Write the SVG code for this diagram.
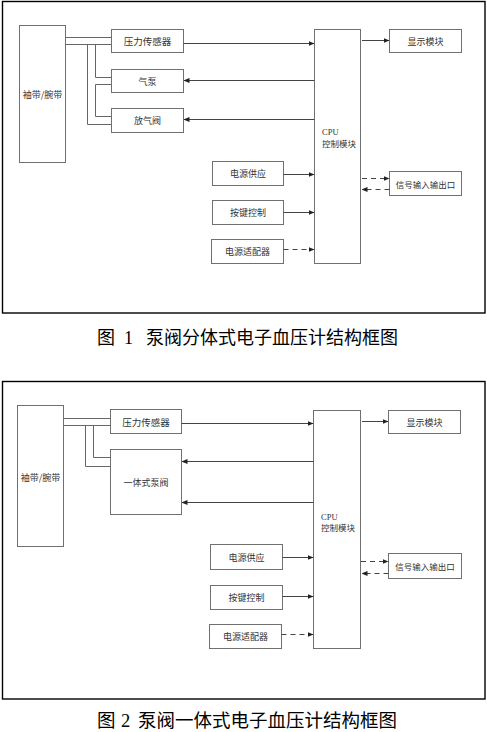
<svg xmlns="http://www.w3.org/2000/svg" width="487" height="732" viewBox="0 0 487 732">
<defs>
<marker id="ah" markerWidth="6" markerHeight="6" refX="5.5" refY="3" orient="auto" markerUnits="userSpaceOnUse">
<path d="M0,0.5 L6,3 L0,5.5 Z" fill="#222"/>
</marker>
</defs>
<style>
.frame{fill:#fff;stroke:#000;stroke-width:1.4}
.box{fill:#fff;stroke:#707070;stroke-width:1}
.lbl{font-family:"Noto Sans CJK SC","Liberation Sans",sans-serif;font-size:9px;fill:#333;text-anchor:middle;dominant-baseline:central}
.cpu{font-family:"Liberation Serif","Noto Sans CJK SC",serif;font-size:8.5px;fill:#333}
.ln{fill:none;stroke:#666;stroke-width:1}
.ar{fill:none;stroke:#444;stroke-width:1;marker-end:url(#ah)}
.da{fill:none;stroke:#444;stroke-width:1;stroke-dasharray:5 4;marker-end:url(#ah)}
.cap{font-family:"Liberation Serif","Noto Sans CJK SC",serif;font-size:18px;fill:#000}
</style>
<rect width="487" height="732" fill="#fff"/>

<!-- Figure 1 -->
<rect class="frame" x="2.5" y="1.5" width="482.5" height="311.5"/>
<g id="f1-cuff"><rect class="box" x="19.5" y="25.5" width="46" height="137"/><text class="lbl" x="42.5" y="94">袖带/腕带</text></g>
<g id="f1-sensor"><rect class="box" x="111.5" y="29.5" width="72" height="23"/><text class="lbl" x="147.5" y="41" style="font-size:9.5px">压力传感器</text></g>
<g id="f1-pump"><rect class="box" x="111.5" y="69.5" width="72" height="23"/><text class="lbl" x="147.5" y="81">气泵</text></g>
<g id="f1-valve"><rect class="box" x="111.5" y="108.5" width="72" height="24"/><text class="lbl" x="147.5" y="120.5">放气阀</text></g>
<g id="f1-cpu"><rect class="box" x="314.5" y="29.5" width="46" height="234"/><text class="cpu" x="322" y="135">CPU</text><text class="cpu" x="322" y="147" style="font-family:'Noto Sans CJK SC',sans-serif">控制模块</text></g>
<g id="f1-display"><rect class="box" x="389.5" y="29.5" width="72" height="23"/><text class="lbl" x="425.5" y="41">显示模块</text></g>
<g id="f1-power"><rect class="box" x="212.5" y="161.5" width="71" height="24"/><text class="lbl" x="248" y="173.5">电源供应</text></g>
<g id="f1-keys"><rect class="box" x="212.5" y="200.5" width="71" height="24"/><text class="lbl" x="248" y="212.5">按键控制</text></g>
<g id="f1-adapter"><rect class="box" x="211.5" y="239.5" width="72" height="24"/><text class="lbl" x="247.5" y="251.5">电源适配器</text></g>
<g id="f1-io"><rect class="box" x="389.5" y="171.5" width="72" height="24"/><text class="lbl" x="425.5" y="183.5" style="font-size:8.5px">信号输入输出口</text></g>

<g id="f1-connectors">
<path class="ln" d="M65.5,37.5 H111.5"/>
<path class="ln" d="M65.5,44.5 H111.5"/>
<path class="ln" d="M87.5,44.5 V124.5 H111.5"/>
<path class="ln" d="M95.5,44.5 V77.5 H111.5"/>
<path class="ln" d="M111.5,84.5 H95.5 V116.5 H111.5"/>
<path class="ar" d="M183.5,43.5 H314"/>
<path class="ar" d="M314.5,80.5 H184"/>
<path class="ar" d="M314.5,119.5 H184"/>
<path class="ar" d="M362,40.5 H389"/>
<path class="ar" d="M283.5,174.5 H314"/>
<path class="ar" d="M283.5,212.5 H314"/>
<path class="da" d="M283.5,249.5 H314"/>
<path class="da" d="M362,178.5 H389"/>
<path class="da" d="M389.5,189.5 H362"/>
</g>
<text class="cap" y="344"><tspan x="97">图</tspan><tspan x="124">1</tspan><tspan x="146">泵阀分体式电子血压计结构框图</tspan></text>

<!-- Figure 2 -->
<rect class="frame" x="2.5" y="381.5" width="482.5" height="317.5"/>
<g id="f2-cuff"><rect class="box" x="17.5" y="405.5" width="46" height="141"/><text class="lbl" x="40.5" y="477">袖带/腕带</text></g>
<g id="f2-sensor"><rect class="box" x="110.5" y="409.5" width="71" height="24"/><text class="lbl" x="146" y="421.5" style="font-size:9.5px">压力传感器</text></g>
<g id="f2-pumpvalve"><rect class="box" x="110.5" y="449.5" width="71" height="65"/><text class="lbl" x="146" y="482">一体式泵阀</text></g>
<g id="f2-cpu"><rect class="box" x="313.5" y="410.5" width="47" height="238"/><text class="cpu" x="321" y="520">CPU</text><text class="cpu" x="321" y="531" style="font-family:'Noto Sans CJK SC',sans-serif">控制模块</text></g>
<g id="f2-display"><rect class="box" x="388.5" y="410.5" width="72" height="23"/><text class="lbl" x="424.5" y="422">显示模块</text></g>
<g id="f2-power"><rect class="box" x="210.5" y="544.5" width="72" height="25"/><text class="lbl" x="246.5" y="557">电源供应</text></g>
<g id="f2-keys"><rect class="box" x="210.5" y="585.5" width="72" height="24"/><text class="lbl" x="246.5" y="597.5">按键控制</text></g>
<g id="f2-adapter"><rect class="box" x="209.5" y="624.5" width="72" height="24"/><text class="lbl" x="245.5" y="636.5">电源适配器</text></g>
<g id="f2-io"><rect class="box" x="388.5" y="553.5" width="73" height="25"/><text class="lbl" x="425" y="566" style="font-size:8.5px">信号输入输出口</text></g>

<g id="f2-connectors">
<path class="ln" d="M63.5,418.5 H110.5"/>
<path class="ln" d="M63.5,425.5 H110.5"/>
<path class="ln" d="M85.5,425.5 V466.5 H110.5"/>
<path class="ln" d="M93.5,425.5 V457.5 H110.5"/>
<path class="ar" d="M181.5,423.5 H313"/>
<path class="ar" d="M313.5,461.5 H182"/>
<path class="ar" d="M313.5,502.5 H182"/>
<path class="ar" d="M362,421.5 H388"/>
<path class="ar" d="M282.5,557.5 H313"/>
<path class="ar" d="M282.5,596.5 H313"/>
<path class="da" d="M281.5,634.5 H313"/>
<path class="da" d="M361,561.5 H388"/>
<path class="da" d="M388.5,573.5 H362"/>
</g>
<text class="cap" y="727" style="font-size:18.5px"><tspan x="97">图</tspan><tspan x="121">2</tspan><tspan x="138">泵阀一体式电子血压计结构框图</tspan></text>
</svg>
